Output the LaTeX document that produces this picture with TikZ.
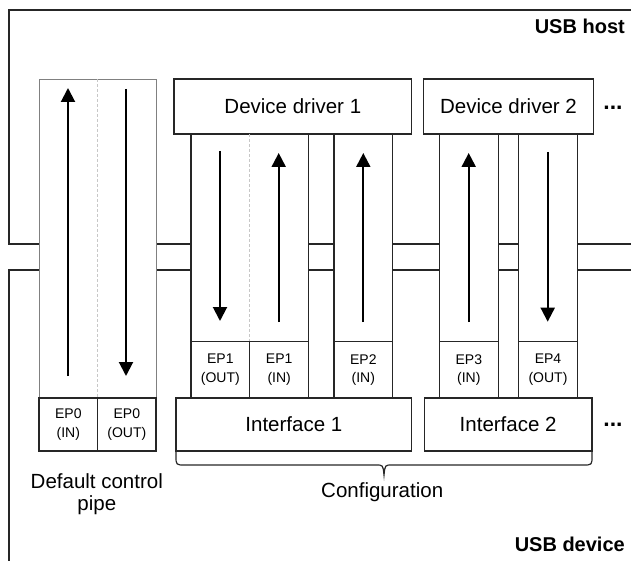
\documentclass[tikz,border=0pt]{standalone}
\usepackage{fontspec}
\setmainfont{Liberation Sans}
\usetikzlibrary{arrows.meta,fit}
\begin{document}
\begin{tikzpicture}[x=1pt,y=-1pt,
  bound/.style={draw=black!85, line width=1.3pt},
  box/.style={draw=black!85, line width=1.2pt, fill=white, inner sep=0pt},
  pipebox/.style={draw=black!50, line width=0.9pt, fill=white, inner sep=0pt},
  divider/.style={draw=black!22, dash pattern=on 3pt off 2pt, line width=0.8pt},
  big/.style={font=\fontsize{20.5}{22.5}\selectfont},
  bigbold/.style={font=\fontsize{20}{22}\selectfont\bfseries},
  dots/.style={font=\fontsize{23}{25}\selectfont\bfseries},
  eplabel/.style={font=\fontsize{14}{18.5}\selectfont, align=center},
  pipearrow/.style={line width=2pt, -{Triangle[length=14pt,width=14pt]}},
  brace/.style={draw=black!85, line width=1.2pt},
  sz/.style n args={2}{minimum width=#1pt, minimum height=#2pt}
]
\useasboundingbox (0,0) rectangle (631,561);

% host and device boundaries
\draw[bound] (631,10) -- (9,10) -- (9,244) -- (39,244);
\draw[bound] (39,270) -- (9,270) -- (9,561);
\foreach \a/\b in {156/191, 308.7/334, 392.7/439.3, 498.3/518.7, 577.3/631} {
  \draw[bound] (\a,244) -- (\b,244);
  \draw[bound] (\a,270) -- (\b,270);
}
\node[bigbold, anchor=base east, inner sep=0pt] (host) at (625,33.3) {USB host};
\node[bigbold, anchor=base east, inner sep=0pt] (device) at (625,551.7) {USB device};

% default control pipe
\node[pipebox, fit={(39,79)(156,451)}] (pipe) {};
\draw[divider] (97.7,79) -- (97.7,398);
\node[box, eplabel, sz={58.7}{53}] (ep0in) at (68.35,424.5) {EP0\\(IN)};
\node[box, eplabel, sz={58.3}{53}] (ep0out) at (126.85,424.5) {EP0\\(OUT)};
\coordinate (a0s) at (68,376);   \coordinate (a0e) at (68,88);
\coordinate (b0s) at (126,89);   \coordinate (b0e) at (126,376);
\draw[pipearrow] (a0s) -- (a0e);
\draw[pipearrow] (b0s) -- (b0e);
\node[big, align=center, inner sep=0pt] (pipelabel) at (96.8,494.3) {Default control\\pipe};

% device driver 1 / interface 1
\node[box, big, sz={237.7}{55}] (dd1) at (292.85,106.5) {Device driver 1};
\node[box, fit={(191,134)(308.7,398)}] (col1) {};
\draw[divider] (249.7,134) -- (249.7,341.7);
\node[box, eplabel, sz={58.7}{56.3}] (ep1out) at (220.35,369.85) {EP1\\(OUT)};
\node[box, eplabel, sz={59}{56.3}] (ep1in) at (279.2,369.85) {EP1\\(IN)};
\node[box, fit={(334,134)(392.7,398)}] (col2) {};
\node[box, eplabel, sz={58.7}{56.3}] (ep2in) at (363.35,369.85) {EP2\\(IN)};
\node[box, big, sz={235.7}{53}] (if1) at (293.85,424.5) {Interface 1};
\coordinate (c1s) at (220,151);   \coordinate (c1e) at (220,321);
\coordinate (d1s) at (278.7,322); \coordinate (d1e) at (278.7,153);
\coordinate (e2s) at (363.3,322); \coordinate (e2e) at (363.3,153);
\draw[pipearrow] (c1s) -- (c1e);
\draw[pipearrow] (d1s) -- (d1e);
\draw[pipearrow] (e2s) -- (e2e);

% device driver 2 / interface 2
\node[box, big, sz={170.4}{55}] (dd2) at (508.5,106.5) {Device driver 2};
\node[box, fit={(439.3,134)(498.3,398)}] (col3) {};
\node[box, eplabel, sz={59}{56.3}] (ep3in) at (468.8,369.85) {EP3\\(IN)};
\node[box, fit={(518.7,134)(577.3,398)}] (col4) {};
\node[box, eplabel, sz={58.6}{56.3}] (ep4out) at (548,369.85) {EP4\\(OUT)};
\node[box, big, sz={167.7}{53}] (if2) at (508.15,424.5) {Interface 2};
\coordinate (f3s) at (468.7,322); \coordinate (f3e) at (468.7,153);
\coordinate (g4s) at (547.7,152); \coordinate (g4e) at (547.7,321.7);
\draw[pipearrow] (f3s) -- (f3e);
\draw[pipearrow] (g4s) -- (g4e);

% ellipses
\node[dots, anchor=base, inner sep=0pt] (more1) at (613,109.5) {...};
\node[dots, anchor=base, inner sep=0pt] (more2) at (613,426.7) {...};

% configuration brace
\draw[brace] (176,451) -- (176,456) .. controls (176,465) .. (185,465) -- (376,465)
  .. controls (383,465) .. (384,475) .. controls (385,465) .. (392,465) -- (583,465)
  .. controls (592,465) .. (592,456) -- (592,451);
\node[big, anchor=base, inner sep=0pt] (config) at (382.2,497.7) {Configuration};
\end{tikzpicture}
\end{document}
